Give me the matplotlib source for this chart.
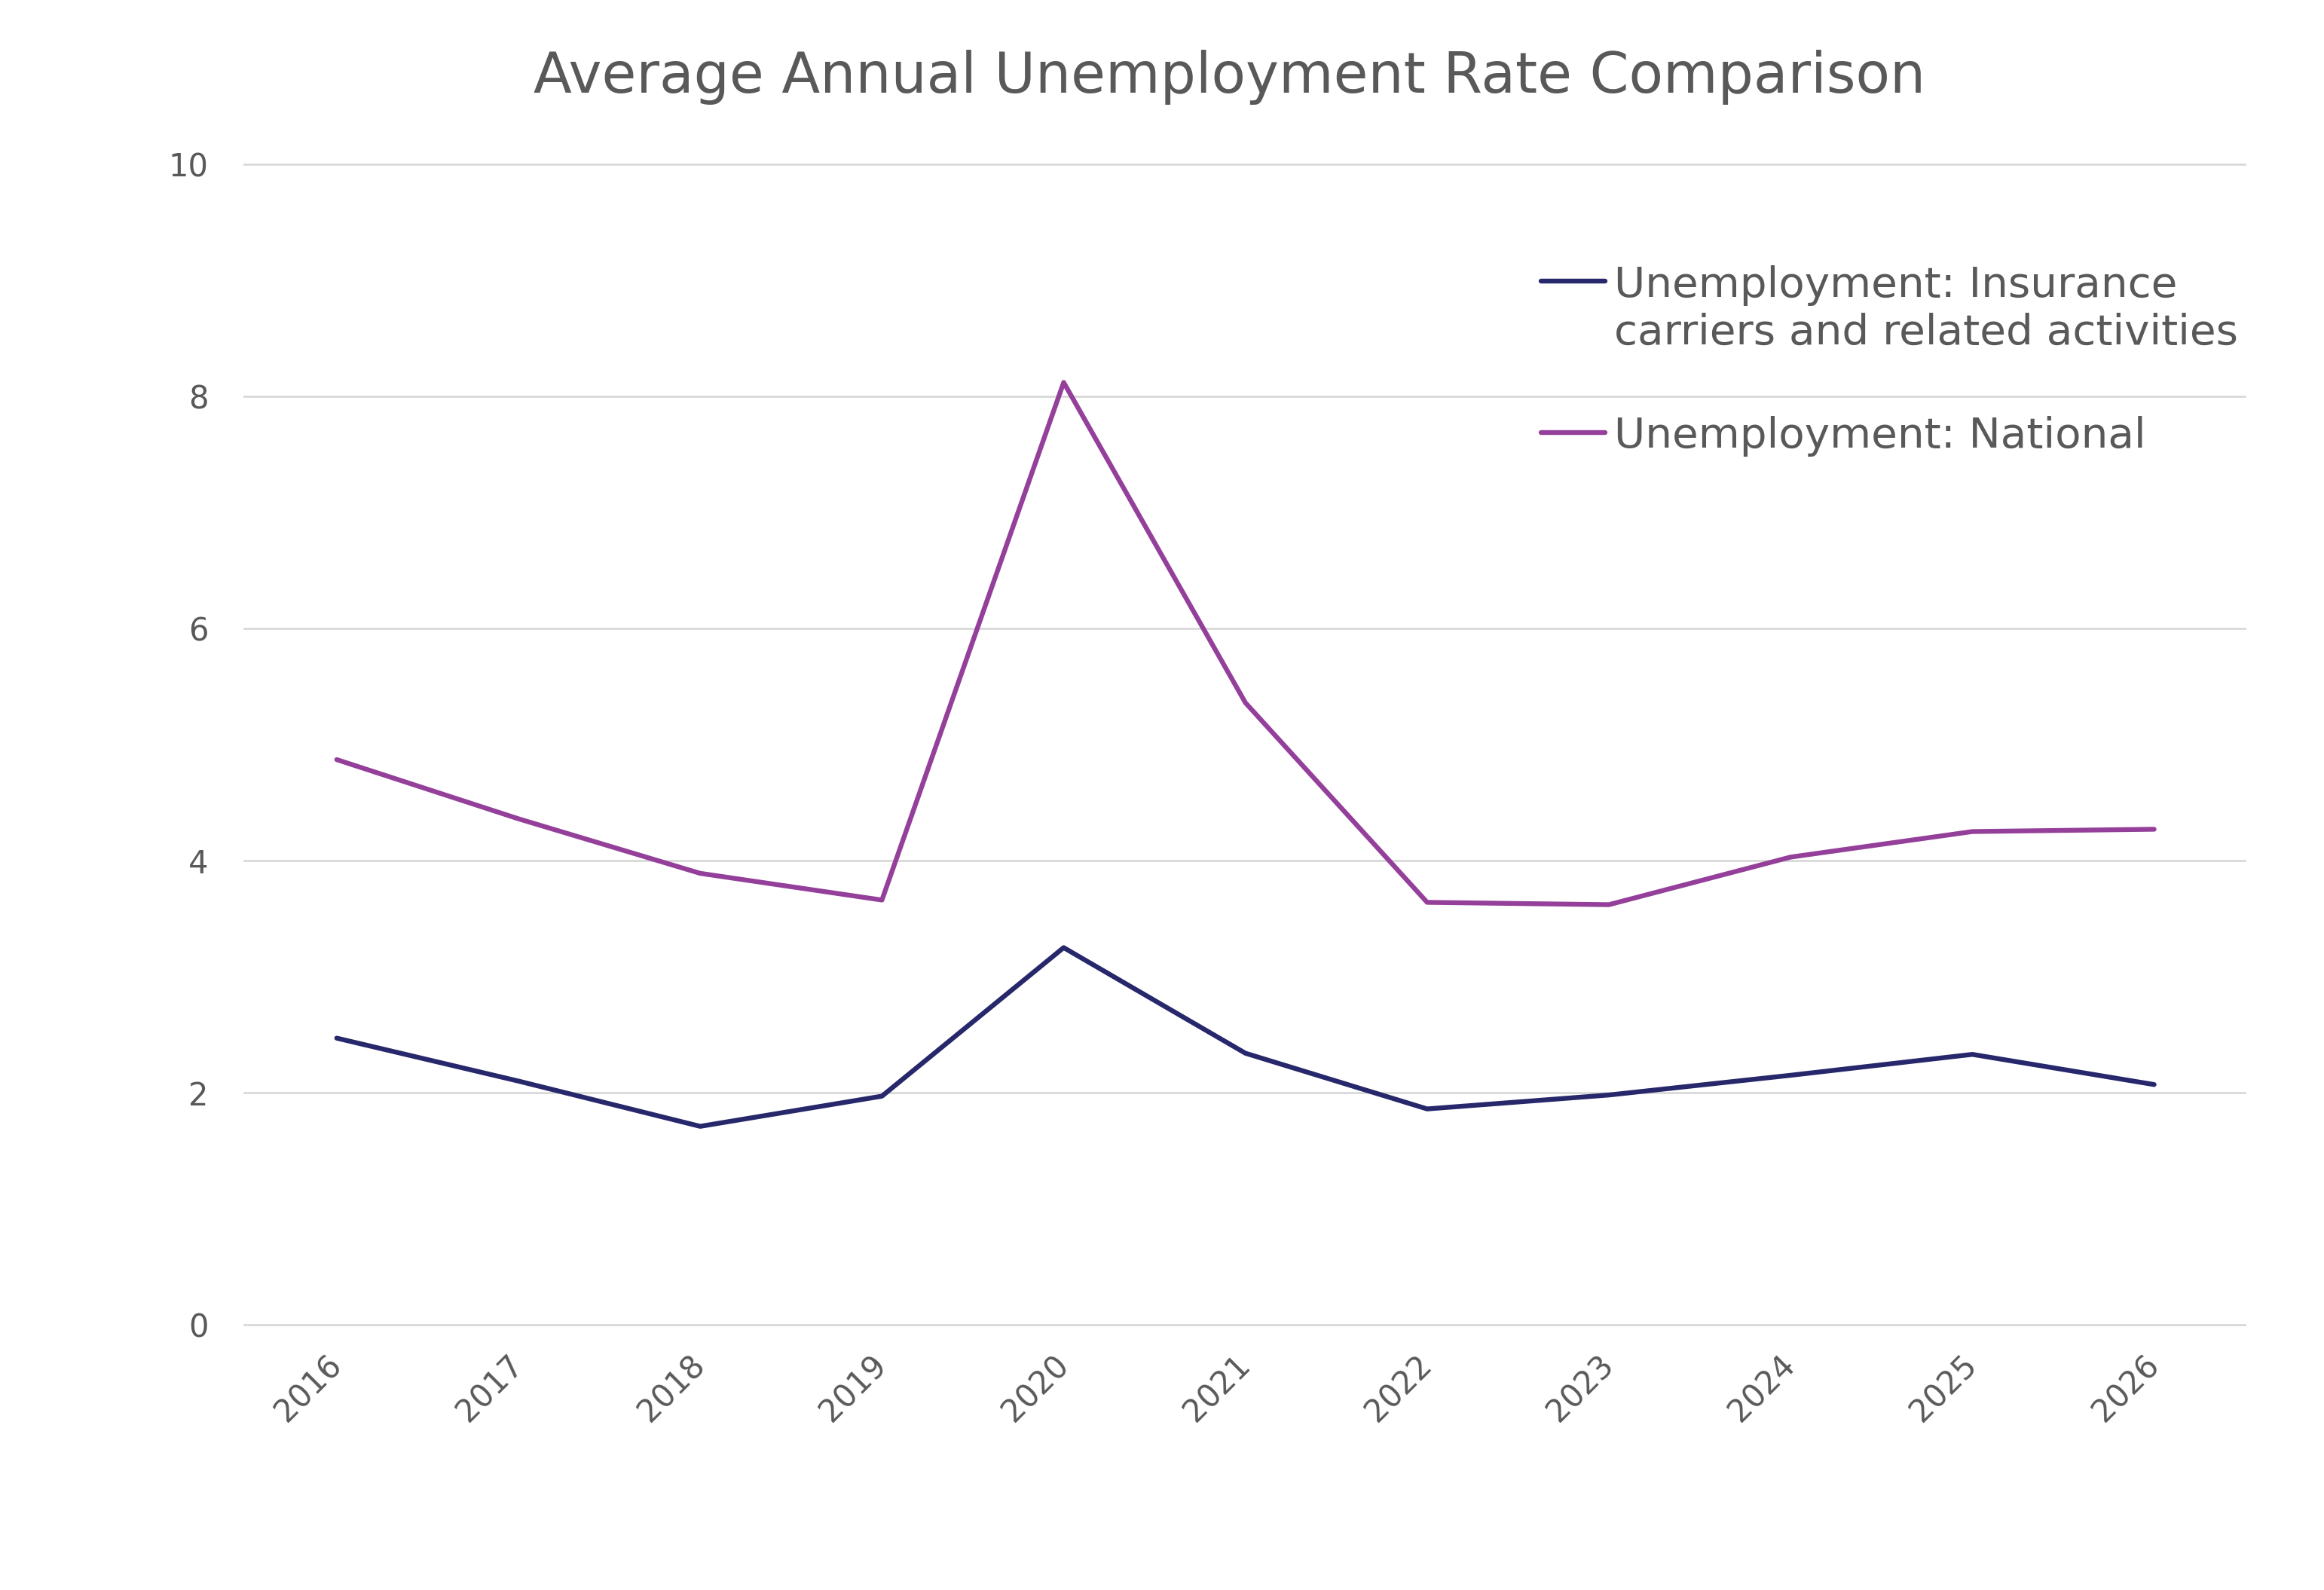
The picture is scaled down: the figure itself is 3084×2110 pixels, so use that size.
import matplotlib
matplotlib.use("Agg")
import matplotlib.pyplot as plt
import numpy as np
from matplotlib.legend_handler import HandlerLine2D
from matplotlib.lines import Line2D

years = ["2016", "2017", "2018", "2019", "2020", "2021", "2022", "2023", "2024", "2025", "2026"]
insurance = [2.47, 2.10, 1.71, 1.97, 3.25, 2.34, 1.86, 1.98, 2.15, 2.33, 2.07]
national = [4.87, 4.36, 3.89, 3.66, 8.12, 5.36, 3.64, 3.62, 4.03, 4.25, 4.27]
series_labels = ["Unemployment: Insurance\ncarriers and related activities", "Unemployment: National"]
title = "Average Annual Unemployment Rate Comparison"
yticks = [0, 2, 4, 6, 8, 10]

TEXT = "#595959"
plt.rcParams['font.family'] = ['DejaVu Sans']


class TopLineHandler(HandlerLine2D):
    def __init__(self, dy=0.0, **kw):
        super().__init__(**kw)
        self.dy = dy

    def create_artists(self, legend, orig_handle, xdescent, ydescent, width, height, fontsize, trans):
        arts = super().create_artists(legend, orig_handle, xdescent, ydescent, width, height, fontsize, trans)
        for a in arts:
            if isinstance(a, Line2D):
                a.set_ydata(np.asarray(a.get_ydata(), dtype=float) + self.dy)
        return arts


fig = plt.figure(figsize=(15.42, 10.55), dpi=200)
ax = fig.add_axes([0.105, 0.1668, 0.861, 0.7299])

x = list(range(len(years)))
l1, = ax.plot(x, insurance, color="#27276b", lw=2.3, label=series_labels[0], solid_capstyle='round')
l2, = ax.plot(x, national, color="#94409a", lw=2.3, label=series_labels[1], solid_capstyle='round')

ax.set_xlim(-0.51, 10.5)
ax.set_ylim(0, 10)
ax.set_yticks(yticks)
ax.set_yticklabels([str(v) for v in yticks])
ax.set_xticks(x)
ax.set_xticklabels(years, rotation=45, ha='right', va='center', rotation_mode='anchor')
ax.grid(axis='y', color='#d9d9d9', lw=1.0)
for gl in ax.get_ygridlines():
    gl.set_clip_on(False)
ax.set_axisbelow(True)
for s in ax.spines.values():
    s.set_visible(False)
ax.tick_params(axis='both', length=0, colors=TEXT, labelsize=15)
ax.tick_params(axis='y', pad=17)
ax.tick_params(axis='x', pad=17)

fig.suptitle(title, x=0.529, y=0.9685, fontsize=26.8, color=TEXT, va='top')

leg = ax.legend(handles=[l1, l2], loc='upper left', bbox_to_anchor=(0.6482, 0.913), frameon=False,
                fontsize=20.3, handlelength=1.5, handletextpad=0.22, labelspacing=1.48,
                borderpad=0, borderaxespad=0,
                handler_map={l1: TopLineHandler(dy=14.0)})
for t in leg.get_texts():
    t.set_color(TEXT)

fig.savefig("out.png", dpi=200, facecolor='white')
